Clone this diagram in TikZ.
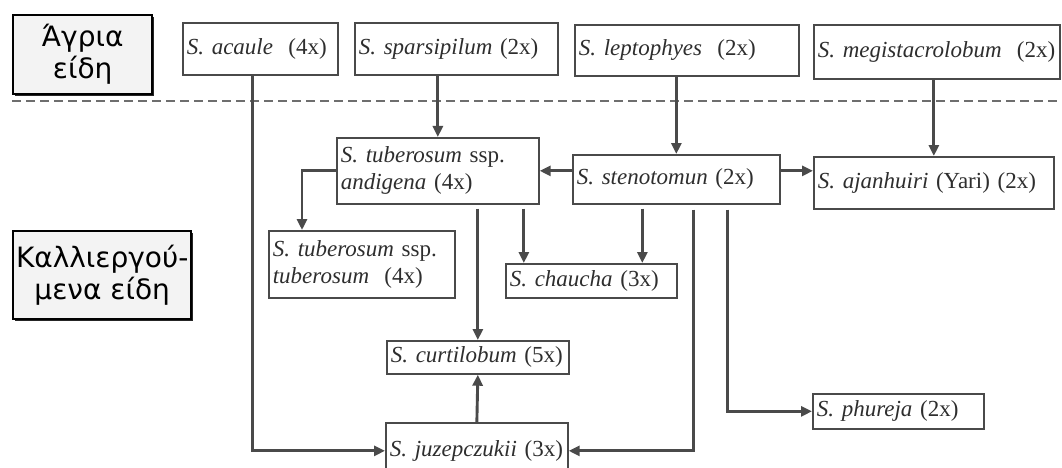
\documentclass[tikz,border=0pt]{standalone}
\usepackage{fontspec}
\setmainfont{Liberation Serif}
\newfontfamily\greekfont{DejaVu Sans}
\usepackage{tikz}
\usetikzlibrary{arrows.meta,positioning,calc,shadows}
\definecolor{scanink}{HTML}{2E2E2E}
\definecolor{scanrule}{HTML}{4A4A4A}
\definecolor{scanfill}{HTML}{F3F3F3}

\begin{document}
\begin{tikzpicture}[
  x=1pt,y=-1pt,
  font=\fontsize{23}{27}\selectfont,
  sp/.style={draw=scanrule,line width=1.7pt,anchor=north west,inner xsep=4pt,inner ysep=2pt,
             align=left,text=scanink},
  grp/.style={draw=black,line width=2.4pt,fill=scanfill,anchor=north west,align=center,
              inner sep=2pt,font=\greekfont\fontsize{28}{32}\selectfont,
              drop shadow={shadow xshift=2pt,shadow yshift=-2pt,fill=black,opacity=.85}},
  arr/.style={-{Triangle[length=11pt,width=10pt]},line width=2.9pt,draw=scanrule},
  sep/.style={draw=scanrule!80,line width=1.4pt,dash pattern=on 9pt off 5pt},
]
\useasboundingbox (0,0) rectangle (1062,468);

\node[grp,minimum width=139pt,minimum height=79pt] (wildlab) at (12,14) {Άγρια\\είδη};
\node[grp,minimum width=178pt,minimum height=88pt] (cultlab) at (12,230) {Καλλιεργού-\\μενα είδη};

\draw[sep] (12,101) -- (1058,101);

\node[sp,text width=147pt,minimum height=52pt] (acaule) at (182,22) {\textit{S.~acaule}~~(4x)};
\node[sp,text width=195pt,minimum height=52pt] (sparsipilum) at (354,22) {\textit{S.~sparsipilum}~(2x)};
\node[sp,text width=216pt,minimum height=51pt] (leptophyes) at (574,24) {\textit{S.~leptophyes}~~(2x)};
\node[sp,text width=238pt,minimum height=54pt] (megistacrolobum) at (813,24) {\textit{S.~megistacrolobum}~~(2x)};

\node[sp,text width=194pt,minimum height=66pt] (andigena) at (336,137)
  {\textit{S.~tuberosum} ssp.\\\textit{andigena} (4x)};
\node[sp,text width=199pt,minimum height=49pt] (stenotomun) at (572,154) {\textit{S.~stenotomun}~(2x)};
\node[sp,text width=232pt,minimum height=52pt] (ajanhuiri) at (813,156) {\textit{S.~ajanhuiri}~(Yari)~(2x)};

\node[sp,text width=178pt,minimum height=67pt] (tuberosum) at (268,230)
  {\textit{S.~tuberosum} ssp.\\\textit{tuberosum}~~(4x)};
\node[sp,text width=163pt,minimum height=34pt] (chaucha) at (505,263) {\textit{S.~chaucha}~(3x)};
\node[sp,text width=174pt,minimum height=33pt] (curtilobum) at (386,340) {\textit{S.~curtilobum}~(5x)};
\node[sp,text width=174pt,minimum height=56pt] (juzepczukii) at (385,422) {\textit{S.~juzepczukii}~(3x)};
\node[sp,text width=163pt,minimum height=35pt] (phureja) at (812,393) {\textit{S.~phureja}~(2x)};

\draw[arr] ([xshift=-8pt]acaule.south) |- (juzepczukii.west);
\draw[arr] (sparsipilum.south -| andigena.north) -- (andigena.north);
\draw[arr] (leptophyes.south -| stenotomun.north) -- (stenotomun.north);
\draw[arr] (megistacrolobum.south -| ajanhuiri.north) -- (ajanhuiri.north);
\draw[arr] (andigena.east -| stenotomun.west) -- (andigena.east);
\draw[arr] (andigena.east -| stenotomun.east) -- (andigena.east -| ajanhuiri.west);
\draw[arr] (andigena.west) -| ([xshift=34pt]tuberosum.north west);
\draw[arr,shorten <=4pt] ([xshift=86pt]andigena.south) -- ([xshift=86pt]andigena.south |- chaucha.north);
\draw[arr,shorten <=4pt] ([xshift=-34pt]stenotomun.south) -- ([xshift=-34pt]stenotomun.south |- chaucha.north);
\draw[arr,shorten <=4pt] (andigena.south -| curtilobum.north) -- (curtilobum.north);
\draw[arr] (juzepczukii.north) -- (curtilobum.south);
\draw[arr,shorten <=5pt] ([xshift=17pt]stenotomun.south) |- (juzepczukii.east);
\draw[arr,shorten <=5pt] ([xshift=51pt]stenotomun.south) |- (phureja.west);

\end{tikzpicture}
\end{document}
